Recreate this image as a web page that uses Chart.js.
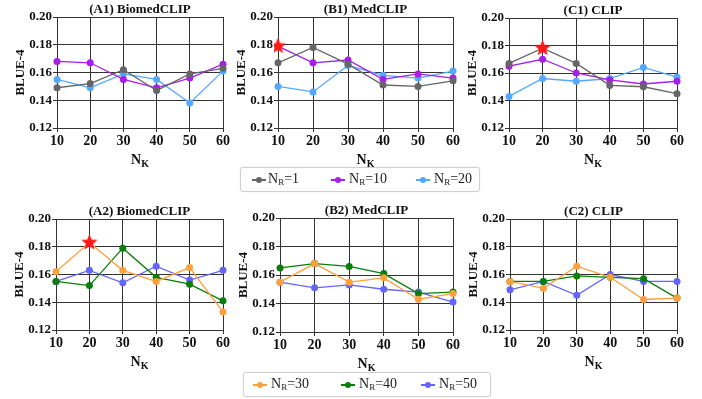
<!DOCTYPE html>
<html>
<head>
<meta charset="utf-8">
<script src="https://cdn.jsdelivr.net/npm/chart.js@4"></script>
<style>
  body { margin: 0; background: #fff; }
  #wrap { position: relative; width: 702px; height: 399px; overflow: hidden; }
  .panel { position: absolute; }
  .legend {
    position: absolute; border: 1px solid #d0d0d0; border-radius: 3px;
    font-family: "Liberation Serif", serif; font-size: 14px; color: #222;
    box-shadow: 0 0 1px #ccc;
  }
  .item { position: absolute; top: 3px; white-space: nowrap; }
  .mk { position: absolute; top: 11px; width: 14px; height: 1.5px; }
  .mk i { position: absolute; left: 4px; top: -2.5px; width: 6px; height: 6px; border-radius: 50%; }
  sub { font-size: 9px; vertical-align: -2px; }
</style>
</head>
<body>
<div id="wrap"></div>
<script>
// x categories (N_K) and BLUE-4 values
const nk = [10, 20, 30, 40, 50, 60];

// top row: N_R = 1, 10, 20
const a1_r1  = [0.149, 0.152, 0.162, 0.147, 0.159, 0.163];
const a1_r10 = [0.168, 0.167, 0.155, 0.149, 0.156, 0.166];
const a1_r20 = [0.155, 0.149, 0.159, 0.155, 0.138, 0.161];

const b1_r1  = [0.167, 0.178, 0.166, 0.151, 0.150, 0.154];
const b1_r10 = [0.179, 0.167, 0.169, 0.155, 0.159, 0.156];
const b1_r20 = [0.150, 0.146, 0.165, 0.158, 0.156, 0.161];

const c1_r1  = [0.167, 0.178, 0.167, 0.151, 0.150, 0.145];
const c1_r10 = [0.165, 0.170, 0.160, 0.155, 0.152, 0.154];
const c1_r20 = [0.143, 0.156, 0.154, 0.156, 0.164, 0.157];

// bottom row: N_R = 30, 40, 50
const a2_r30 = [0.162, 0.183, 0.163, 0.155, 0.165, 0.133];
const a2_r40 = [0.155, 0.152, 0.179, 0.158, 0.153, 0.141];
const a2_r50 = [0.155, 0.163, 0.154, 0.166, 0.156, 0.163];

const b2_r30 = [0.155, 0.168, 0.155, 0.158, 0.143, 0.147];
const b2_r40 = [0.165, 0.168, 0.166, 0.161, 0.147, 0.148];
const b2_r50 = [0.155, 0.151, 0.153, 0.150, 0.148, 0.141];

const c2_r30 = [0.155, 0.150, 0.166, 0.158, 0.142, 0.143];
const c2_r40 = [0.155, 0.155, 0.159, 0.158, 0.157, 0.143];
const c2_r50 = [0.149, 0.155, 0.145, 0.160, 0.155, 0.155];

const yTicks = [0.12, 0.14, 0.16, 0.18, 0.20];

const topNames = ['1', '10', '20'];
const botNames = ['30', '40', '50'];
const topColors = ['#666666', '#a61ee8', '#55a8ff'];
const botColors = ['#ffa03c', '#0a7d0a', '#6464ff'];

const FONT = '"Liberation Serif", "Times New Roman", serif';

// red filled star used for the best point
function makeStar(size) {
  const c = document.createElement('canvas');
  c.width = size; c.height = size;
  const g = c.getContext('2d');
  const cx = size / 2, cy = size / 2, R = size / 2, r = R * 0.45;
  g.beginPath();
  for (let i = 0; i < 10; i++) {
    const rad = i % 2 ? r : R;
    const a = -Math.PI / 2 + i * Math.PI / 5;
    g.lineTo(cx + rad * Math.cos(a), cy + rad * Math.sin(a));
  }
  g.closePath();
  g.fillStyle = '#ff1a1a';
  g.fill();
  return c;
}
const star = makeStar(17);

// plot rect = [left, top, right, bottom] in page pixels
const panels = [
  { title: '(A1) BiomedCLIP', plot: [57, 17, 223, 128], data: [a1_r1, a1_r10, a1_r20], colors: topColors, star: null },
  { title: '(B1) MedCLIP',    plot: [278, 17, 453, 128], data: [b1_r1, b1_r10, b1_r20], colors: topColors, star: [1, 0] },
  { title: '(C1) CLIP',       plot: [509, 18, 677, 128], data: [c1_r1, c1_r10, c1_r20], colors: topColors, star: [0, 1] },
  { title: '(A2) BiomedCLIP', plot: [56, 219, 223, 330], data: [a2_r30, a2_r40, a2_r50], colors: botColors, star: [0, 1] },
  { title: '(B2) MedCLIP',    plot: [280, 218, 453, 332], data: [b2_r30, b2_r40, b2_r50], colors: botColors, star: null },
  { title: '(C2) CLIP',       plot: [510, 219, 677, 330], data: [c2_r30, c2_r40, c2_r50], colors: botColors, star: null },
];

// title above and N_K below each plot
const panelText = {
  id: 'panelText',
  afterDraw(chart, args, opts) {
    const ctx = chart.ctx, a = chart.chartArea;
    const cx = (a.left + a.right) / 2;
    ctx.save();
    ctx.fillStyle = '#111';
    ctx.textBaseline = 'alphabetic';
    ctx.textAlign = 'center';
    ctx.font = 'bold 13px ' + FONT;
    ctx.fillText(opts.title, cx, a.top - 4);
    // N with subscript K
    ctx.font = 'bold 14px ' + FONT;
    const wN = ctx.measureText('N').width;
    ctx.font = 'bold 10px ' + FONT;
    const wK = ctx.measureText('K').width;
    const x0 = cx - (wN + wK) / 2;
    const y = a.bottom + 36;
    ctx.textAlign = 'left';
    ctx.font = 'bold 14px ' + FONT;
    ctx.fillText('N', x0, y);
    ctx.font = 'bold 10px ' + FONT;
    ctx.fillText('K', x0 + wN, y + 3);
    ctx.restore();
  }
};

const wrap = document.getElementById('wrap');

panels.forEach((p, idx) => {
  const [l, t, r, b] = p.plot;
  const left = l - 57, top = t - 18;
  const width = r + 12 - left, height = b + 46 - top;
  const div = document.createElement('div');
  div.className = 'panel';
  div.style.cssText = `left:${left}px;top:${top}px;width:${width}px;height:${height}px;`;
  const cv = document.createElement('canvas');
  div.appendChild(cv);
  wrap.appendChild(div);

  const names = idx < 3 ? topNames : botNames;
  const datasets = p.data.map((vals, i) => {
    const ds = {
      label: 'N_R=' + names[i],
      data: vals,
      borderColor: p.colors[i],
      backgroundColor: p.colors[i],
      borderWidth: 1.3,
      pointRadius: 3.5,
      pointBorderWidth: 0,
      tension: 0,
    };
    if (p.star && p.star[0] === i) {
      ds.pointStyle = vals.map((v, j) => j === p.star[1] ? star : 'circle');
    }
    return ds;
  });

  new Chart(cv, {
    type: 'line',
    data: { labels: nk, datasets: datasets },
    options: {
      responsive: true,
      maintainAspectRatio: false,
      animation: false,
      layout: { padding: { top: 18, right: 12, left: 0, bottom: 0 } },
      plugins: {
        legend: { display: false },
        tooltip: { enabled: false },
        panelText: { title: p.title },
      },
      scales: {
        x: {
          offset: false,
          grid: { color: '#333', lineWidth: 1, tickLength: 4, offset: false },
          border: { color: '#333', width: 1 },
          ticks: { color: '#111', font: { family: FONT, size: 14, weight: 'bold' }, padding: 1, maxRotation: 0 },
          afterFit(s) { s.height = 46; },
        },
        y: {
          min: 0.12, max: 0.20,
          afterBuildTicks(s) { s.ticks = yTicks.map(v => ({ value: v })); },
          grid: { color: '#333', lineWidth: 1, tickLength: 4 },
          border: { color: '#333', width: 1 },
          ticks: { color: '#111', font: { family: FONT, size: 13, weight: 'bold' }, padding: 1,
                   callback: v => v.toFixed(2) },
          title: { display: true, text: 'BLUE-4', color: '#111', padding: { top: 13, bottom: 0 },
                   font: { family: FONT, size: 13, weight: 'bold' } },
          afterFit(s) { s.width = 57; },
        },
      },
    },
    plugins: [panelText],
  });
});

// shared legends below the middle panels
function addLegend(box, names, colors, pos) {
  const lg = document.createElement('div');
  lg.className = 'legend';
  lg.style.cssText = `left:${box[0]}px;top:${box[1]}px;width:${box[2]}px;height:${box[3]}px;`;
  names.forEach((n, i) => {
    const mk = document.createElement('span');
    mk.className = 'mk';
    mk.style.left = pos[i][0] + 'px';
    mk.style.background = colors[i];
    const dot = document.createElement('i');
    dot.style.background = colors[i];
    mk.appendChild(dot);
    const it = document.createElement('span');
    it.className = 'item';
    it.style.left = pos[i][1] + 'px';
    it.innerHTML = 'N<sub>R</sub>=' + n;
    lg.appendChild(mk);
    lg.appendChild(it);
  });
  wrap.appendChild(lg);
}
addLegend([240, 167, 238, 23], topNames, topColors, [[11, 27], [90, 108], [175, 193]]);
addLegend([243, 372, 246, 23], botNames, botColors, [[9, 27], [97, 115], [177, 195]]);
</script>
</body>
</html>
